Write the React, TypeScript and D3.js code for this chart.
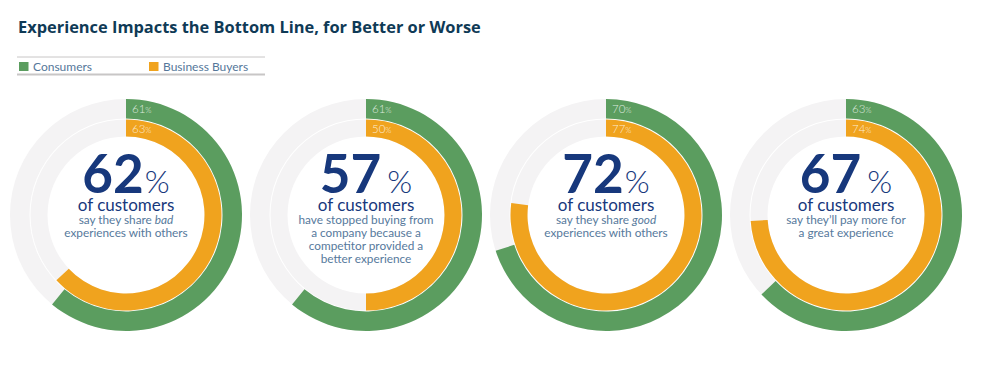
import React from 'react';
import * as d3 from 'd3';

const title = 'Experience Impacts the Bottom Line, for Better or Worse';
const seriesNames = ['Consumers', 'Business Buyers'];
const headline = [62, 57, 72, 67];
const consumers = [61, 61, 70, 63];
const businessBuyers = [63, 50, 77, 74];
// caption lines; words wrapped in * are italic
const captions = [
  ['say they share *bad*', 'experiences with others'],
  ['have stopped buying from', 'a company because a', 'competitor provided a', 'better experience'],
  ['say they share *good*', 'experiences with others'],
  ['say they\u2019ll pay more for', 'a great experience']
];

const W = 989;
const H = 371;
const GREEN = '#5b9d5f';
const ORANGE = '#f0a31e';
const TRACK = '#f4f3f4';
const NAVY = '#17387c';
const CAPTION = '#56799c';
const FONT = 'Lato, "Open Sans", sans-serif';

const cy = 215;
const outer = { inner: 96.5, outer: 116 };
const inner = { inner: 78.5, outer: 95.5 };

function Caption({ line, y }: { line: string; y: number }) {
  const parts = line.split('*');
  return (
    <text y={y} textAnchor="middle" fontSize={11.8} fill={CAPTION} fontFamily={FONT}>
      {parts.map((p, i) => (
        <tspan key={i} fontStyle={i % 2 === 1 ? 'italic' : 'normal'}>
          {p}
        </tspan>
      ))}
    </text>
  );
}

function Donut({ i, cx }: { i: number; cx: number }) {
  const angle = d3.scaleLinear().domain([0, 100]).range([0, 2 * Math.PI]);
  const arcOuter = d3.arc<any>().innerRadius(outer.inner).outerRadius(outer.outer);
  const arcInner = d3.arc<any>().innerRadius(inner.inner).outerRadius(inner.outer);
  const full = { startAngle: 0, endAngle: 2 * Math.PI };
  const hasGap = headline[i] % 10 === 7;

  return (
    <g transform={`translate(${cx},${cy})`}>
      <path d={arcOuter(full) as string} fill={TRACK} />
      <path d={arcInner(full) as string} fill={TRACK} />
      <path d={arcOuter({ startAngle: 0, endAngle: angle(consumers[i]) }) as string} fill={GREEN} />
      <path d={arcInner({ startAngle: 0, endAngle: angle(businessBuyers[i]) }) as string} fill={ORANGE} />

      <text x={6} y={-outer.outer + 13.5} fontSize={11.5} fontWeight={300} fill="#fff" fillOpacity={0.8} fontFamily={FONT}>
        {consumers[i]}
        <tspan fontSize={8}>%</tspan>
      </text>
      <text x={6} y={-inner.outer + 13} fontSize={11.5} fontWeight={300} fill="#fff" fillOpacity={0.8} fontFamily={FONT}>
        {businessBuyers[i]}
        <tspan fontSize={8}>%</tspan>
      </text>

      <text y={-22} textAnchor="middle" fill={NAVY} fontFamily={FONT}>
        <tspan fontSize={53} fontWeight={700}>{headline[i]}</tspan>
        <tspan fontSize={32} fontWeight={300} dx={hasGap ? 6 : 1}>%</tspan>
      </text>
      <text y={-4} textAnchor="middle" fontSize={17} fontWeight={400} fill={NAVY} fontFamily={FONT}>
        of customers
      </text>
      {captions[i].map((line, k) => (
        <Caption key={k} line={line} y={9 + k * 13} />
      ))}
    </g>
  );
}

export default function App() {
  const x = d3.scaleBand<number>().domain(d3.range(headline.length)).range([6, 966]);
  const colors = [GREEN, ORANGE];
  const legendX = [19, 149];

  return (
    <svg width={W} height={H} style={{ position: 'absolute', left: 0, top: 0, background: '#fff' }}>
      <text x={18} y={33} fontSize={16.4} fontWeight={700} fill="#0f3a56" fontFamily='"Open Sans", Lato, sans-serif'>
        {title}
      </text>

      <line x1={17} x2={265} y1={57} y2={57} stroke="#c8c6c6" strokeWidth={1} />
      <line x1={17} x2={265} y1={74.5} y2={74.5} stroke="#c8c6c6" strokeWidth={2} />
      {seriesNames.map((name, k) => (
        <g key={name}>
          <rect x={legendX[k]} y={62} width={9.5} height={9} fill={colors[k]} />
          <text x={legendX[k] + 14} y={70.5} fontSize={12} fill="#55779a" fontFamily={FONT}>
            {name}
          </text>
        </g>
      ))}

      {headline.map((_, i) => (
        <Donut key={i} i={i} cx={(x(i) as number) + x.bandwidth() / 2} />
      ))}
    </svg>
  );
}
